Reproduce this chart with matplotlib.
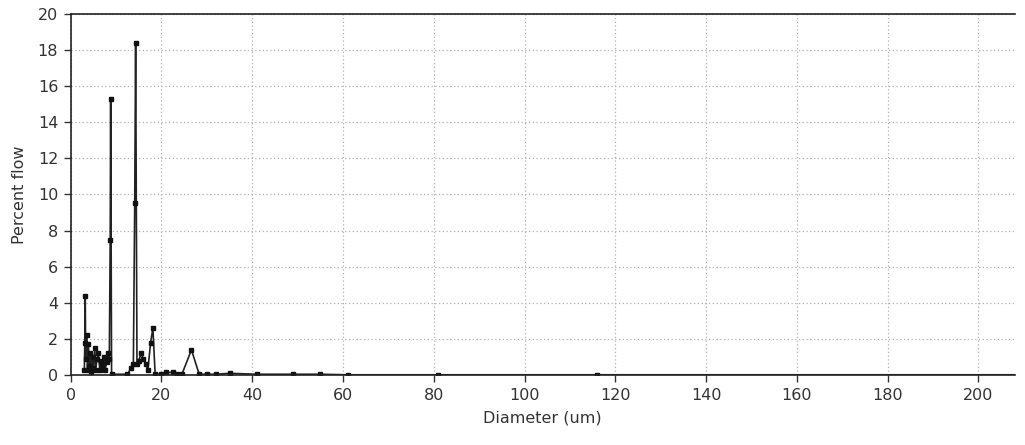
import matplotlib.pyplot as plt

# diameter (um) and percent flow
diameter = [3.0, 3.1, 3.2, 3.3, 3.5, 3.7, 3.9, 4.1, 4.3, 4.5, 4.8, 5.0, 5.3, 5.5,
            5.8, 6.1, 6.4, 6.7, 7.0, 7.3, 7.6, 7.9, 8.2, 8.5, 8.7, 8.8, 9.0,
            12.5, 13.3, 13.8, 14.1, 14.3, 14.6, 15.0, 15.5, 16.0, 16.5, 17.0,
            17.6, 18.1, 18.6, 20.0, 21.0, 22.5, 23.5, 24.5, 26.6, 28.3, 30.0,
            32.0, 35.0, 41.0, 49.0, 55.0, 61.0, 81.0, 116.0, 208.0]
flow = [0.3, 1.8, 4.4, 0.9, 2.2, 0.3, 1.7, 0.5, 1.2, 0.2, 1.0, 0.4, 1.5, 0.3,
        0.9, 1.2, 0.3, 0.8, 0.5, 1.0, 0.3, 0.7, 1.2, 0.9, 7.5, 15.3, 0.05,
        0.05, 0.4, 0.6, 9.5, 18.4, 0.6, 0.8, 1.2, 0.9, 0.6, 0.3,
        1.8, 2.6, 0.05, 0.05, 0.15, 0.15, 0.05, 0.05, 1.4, 0.05, 0.05,
        0.05, 0.1, 0.05, 0.05, 0.05, 0.02, 0.02, 0.02, 0.02]

x_ticks = [0, 20, 40, 60, 80, 100, 120, 140, 160, 180, 200]
y_ticks = [0, 2, 4, 6, 8, 10, 12, 14, 16, 18, 20]

fig = plt.figure(figsize=(10.25, 4.45), dpi=100)
ax = fig.add_axes([0.069, 0.157, 0.921, 0.812])

ax.plot(diameter, flow, color="#222222", linewidth=1.2, marker="s",
        markersize=3.5, markerfacecolor="#111111", markeredgecolor="#111111",
        markevery=list(range(len(diameter) - 1)))

ax.set_xlim(0, 208)
ax.set_ylim(0, 20)
ax.set_xticks(x_ticks)
ax.set_yticks(y_ticks)
ax.grid(True, color="#b0b0b0", linestyle=(0, (1, 2)), linewidth=0.9)
ax.set_axisbelow(True)

ax.spines["right"].set_visible(False)
for s in ["top", "left", "bottom"]:
    ax.spines[s].set_color("#222222")
    ax.spines[s].set_linewidth(1.2)

ax.tick_params(direction="out", length=5, width=1, colors="#333333",
               labelsize=11.5, pad=4)
ax.set_xlabel("Diameter (um)", fontsize=11.5, color="#333333", labelpad=6)
ax.set_ylabel("Percent flow", fontsize=11.5, color="#333333", labelpad=8)

fig.savefig("out.png", dpi=100)
